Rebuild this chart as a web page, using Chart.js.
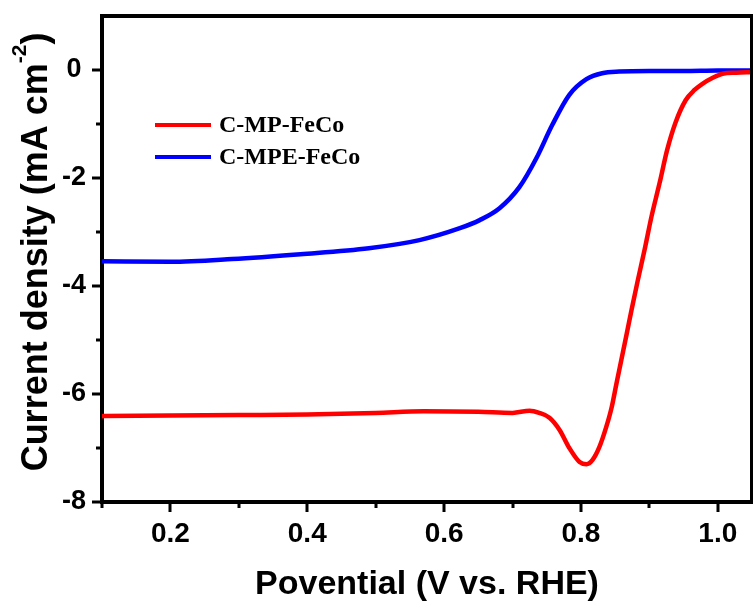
<!DOCTYPE html>
<html>
<head>
<meta charset="utf-8">
<script src="https://cdn.jsdelivr.net/npm/chart.js@4.4.0/dist/chart.umd.min.js"></script>
<style>
  html, body { margin: 0; padding: 0; background: #fff; }
</style>
</head>
<body>
<canvas id="grafica" width="753" height="608"></canvas>
<script>
// Datos
var potencialRojo = [0.10, 0.20, 0.30, 0.40, 0.50, 0.57, 0.65, 0.70, 0.725, 0.739, 0.754, 0.769, 0.783, 0.798, 0.808, 0.817, 0.827, 0.837, 0.845, 0.852, 0.859, 0.866, 0.874, 0.883, 0.893, 0.903, 0.915, 0.926, 0.938, 0.953, 0.966, 0.977, 0.992, 1.007, 1.027, 1.05];
var corrienteRojo = [-6.41, -6.40, -6.39, -6.38, -6.35, -6.32, -6.33, -6.35, -6.31, -6.35, -6.44, -6.67, -7.00, -7.26, -7.30, -7.22, -6.98, -6.61, -6.24, -5.80, -5.37, -4.94, -4.44, -3.90, -3.33, -2.72, -2.09, -1.48, -0.98, -0.56, -0.37, -0.26, -0.15, -0.07, -0.05, -0.04];

var potencialAzul = [0.10, 0.20, 0.29, 0.39, 0.49, 0.564, 0.623, 0.652, 0.681, 0.71, 0.735, 0.758, 0.783, 0.808, 0.831, 0.856, 0.90, 0.95, 1.00, 1.05];
var corrienteAzul = [-3.54, -3.55, -3.50, -3.41, -3.30, -3.15, -2.93, -2.78, -2.56, -2.17, -1.63, -1.02, -0.46, -0.17, -0.06, -0.03, -0.02, -0.02, -0.01, -0.01];

var etiquetas = ['C-MP-FeCo', 'C-MPE-FeCo'];
var colores = ['#ff0000', '#0000ff'];

var xMayores = [0.2, 0.4, 0.6, 0.8, 1.0];
var xMenores = [0.1, 0.3, 0.5, 0.7, 0.9];
var yMayores = [-8, -6, -4, -2, 0];
var yMenores = [-7, -5, -3, -1];

var sans = '"Liberation Sans", Arial, sans-serif';
var serif = '"Liberation Serif", "Times New Roman", serif';

function puntos(xs, ys) {
  return xs.map(function (v, i) { return { x: v, y: ys[i] }; });
}

// Marco, marcas de los ejes, titulo del eje Y y leyenda
var extras = {
  id: 'extras',
  afterDraw: function (chart) {
    var c = chart.ctx, a = chart.chartArea;
    var sx = chart.scales.x, sy = chart.scales.y;
    c.save();
    c.strokeStyle = '#000';
    c.lineWidth = 4;
    c.beginPath();
    c.moveTo(a.left - 2, a.top);
    c.lineTo(a.right, a.top);
    c.lineTo(a.right, a.bottom + 2);
    c.stroke();

    c.lineWidth = 3;
    c.beginPath();
    xMayores.forEach(function (v) {
      var p = Math.round(sx.getPixelForValue(v));
      c.moveTo(p, a.bottom); c.lineTo(p, a.bottom + 10);
    });
    xMenores.forEach(function (v) {
      var p = Math.round(sx.getPixelForValue(v));
      c.moveTo(p, a.bottom); c.lineTo(p, a.bottom + 6);
    });
    yMayores.forEach(function (v) {
      var p = Math.round(sy.getPixelForValue(v));
      c.moveTo(a.left, p); c.lineTo(a.left - 10, p);
    });
    yMenores.forEach(function (v) {
      var p = Math.round(sy.getPixelForValue(v));
      c.moveTo(a.left, p); c.lineTo(a.left - 6, p);
    });
    c.stroke();

    // titulo del eje Y con superindice
    var t1 = 'Current density (mA cm', sup = '-2', t2 = ')';
    c.fillStyle = '#000';
    c.font = 'bold 36px ' + sans;
    var w1 = c.measureText(t1).width, w3 = c.measureText(t2).width;
    c.font = 'bold 21px ' + sans;
    var w2 = c.measureText(sup).width;
    var total = w1 + w2 + w3;
    c.translate(47, 252);
    c.rotate(-Math.PI / 2);
    c.textBaseline = 'alphabetic';
    c.textAlign = 'left';
    c.font = 'bold 36px ' + sans;
    c.fillText(t1, -total / 2, 0);
    c.font = 'bold 21px ' + sans;
    c.fillText(sup, -total / 2 + w1, -21);
    c.font = 'bold 36px ' + sans;
    c.fillText(t2, -total / 2 + w1 + w2, 0);
    c.restore();

    // leyenda
    c.save();
    c.font = 'bold 24px ' + serif;
    c.textBaseline = 'middle';
    chart.data.datasets.forEach(function (ds, i) {
      var y = 125 + i * 32;
      c.strokeStyle = ds.borderColor;
      c.lineWidth = 4;
      c.beginPath();
      c.moveTo(155, y); c.lineTo(211, y);
      c.stroke();
      c.fillStyle = '#000';
      c.fillText(ds.label, 219, y + 1);
    });
    c.restore();
  }
};

var ctx = document.getElementById('grafica').getContext('2d');
var grafica = new Chart(ctx, {
  type: 'line',
  data: {
    datasets: [{
      label: etiquetas[0],
      data: puntos(potencialRojo, corrienteRojo),
      borderColor: colores[0],
      backgroundColor: colores[0],
      borderWidth: 4.5,
      pointRadius: 0,
      cubicInterpolationMode: 'monotone',
      fill: false
    }, {
      label: etiquetas[1],
      data: puntos(potencialAzul, corrienteAzul),
      borderColor: colores[1],
      backgroundColor: colores[1],
      borderWidth: 4.5,
      pointRadius: 0,
      cubicInterpolationMode: 'monotone',
      fill: false
    }]
  },
  options: {
    responsive: false,
    animation: false,
    devicePixelRatio: 1,
    layout: { padding: { top: 16, right: 1, left: 0, bottom: 0 } },
    plugins: {
      legend: { display: false },
      tooltip: { enabled: false }
    },
    scales: {
      x: {
        type: 'linear',
        min: 0.1,
        max: 1.05,
        afterBuildTicks: function (s) { s.ticks = xMayores.map(function (v) { return { value: v }; }); },
        afterFit: function (s) { s.height = 106; s.paddingLeft = 0; s.paddingRight = 0; },
        grid: { display: false, drawTicks: false },
        border: { display: true, color: '#000', width: 4 },
        ticks: {
          color: '#000',
          padding: 15,
          maxRotation: 0,
          autoSkip: false,
          font: { family: sans, size: 28, weight: 'bold' },
          callback: function (v) { return Number(v).toFixed(1); }
        },
        title: {
          display: true,
          text: 'Povential (V vs. RHE)',
          color: '#000',
          font: { family: sans, size: 34, weight: 'bold' },
          padding: { top: 0, bottom: 3 }
        }
      },
      y: {
        type: 'linear',
        min: -8,
        max: 1,
        afterBuildTicks: function (s) { s.ticks = yMayores.map(function (v) { return { value: v }; }); },
        afterFit: function (s) { s.width = 102; s.paddingTop = 0; s.paddingBottom = 0; },
        grid: { display: false, drawTicks: false },
        border: { display: true, color: '#000', width: 4 },
        ticks: {
          color: '#000',
          padding: 16,
          crossAlign: 'center',
          font: { family: sans, size: 27, weight: 'bold' },
          callback: function (v) { return String(v); }
        }
      }
    }
  },
  plugins: [extras]
});
</script>
</body>
</html>
